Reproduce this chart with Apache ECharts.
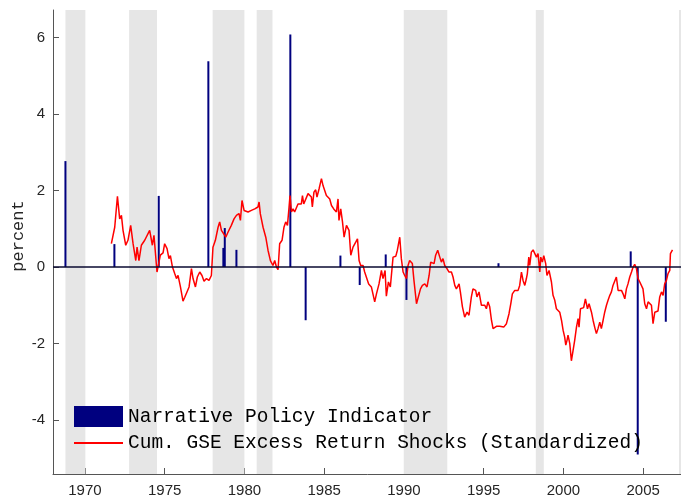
<!DOCTYPE html>
<html>
<head>
<meta charset="utf-8">
<script src="https://cdn.jsdelivr.net/npm/echarts@6/dist/echarts.min.js"></script>
<style>
  html, body { margin: 0; padding: 0; background: #fff; }
  #chart { width: 681px; height: 503px; }
</style>
</head>
<body>
<div id="chart"></div>
<script>
// shaded periods (years)
const bandStarts = [1968.78, 1972.77, 1978.01, 1980.77, 1989.99, 1998.27, 2007.25];
const bandEnds   = [1970.03, 1974.52, 1980.00, 1981.76, 1992.72, 1998.77, 2008.00];

// narrative policy indicator
const policyYears  = [1968.78, 1971.85, 1974.63, 1977.74, 1978.68, 1978.77, 1979.50, 1982.88, 1983.84, 1986.02, 1987.23, 1988.86, 1990.16, 1995.93, 2004.22, 2004.66, 2006.42];
const policyValues = [2.77, 0.60, 1.86, 5.38, 0.50, 1.02, 0.45, 6.08, -1.39, 0.30, -0.47, 0.33, -0.86, 0.10, 0.41, -4.90, -1.43];

// cumulative GSE excess return shocks, [year, value]
const gseShocks = [
  [1971.66,0.61],[1971.87,1.04],[1972.04,1.85],[1972.18,1.26],[1972.29,1.35],[1972.39,0.96],[1972.56,0.57],[1972.70,0.70],
  [1972.87,1.09],[1973.02,0.61],[1973.19,0.17],[1973.27,0.52],[1973.39,0.17],[1973.54,0.57],[1973.75,0.70],[1973.86,0.67],
  [1974.06,0.96],[1974.23,0.57],[1974.33,0.83],[1974.52,-0.13],[1974.63,-0.09],[1974.73,0.31],[1974.90,0.37],[1975.00,0.61],
  [1975.15,0.48],[1975.27,0.22],[1975.36,0.30],[1975.49,0.00],[1975.63,-0.17],[1975.74,-0.30],[1975.84,-0.22],[1975.99,-0.52],
  [1976.15,-0.89],[1976.26,-0.79],[1976.40,-0.65],[1976.53,-0.52],[1976.68,-0.04],[1976.78,-0.30],[1976.93,-0.52],[1977.05,-0.26],
  [1977.20,-0.13],[1977.34,-0.22],[1977.47,-0.37],[1977.62,-0.30],[1977.78,-0.35],[1977.93,-0.22],[1978.03,0.52],[1978.18,0.70],
  [1978.35,1.04],[1978.45,1.18],[1978.56,0.96],[1978.70,0.87],[1978.83,0.78],[1978.97,0.91],[1979.18,1.09],[1979.35,1.26],
  [1979.50,1.35],[1979.66,1.40],[1979.75,1.22],[1979.85,1.74],[1979.98,1.48],[1980.08,1.52],[1980.23,1.44],[1980.44,1.48],
  [1980.65,1.52],[1980.85,1.57],[1980.92,1.70],[1981.00,1.39],[1981.17,1.04],[1981.34,0.78],[1981.48,0.44],[1981.63,0.17],
  [1981.79,0.04],[1981.90,0.17],[1982.01,0.00],[1982.11,-0.07],[1982.21,0.61],[1982.36,0.70],[1982.48,1.04],[1982.59,1.18],
  [1982.66,1.22],[1982.70,1.09],[1982.80,1.57],[1982.86,1.87],[1982.95,1.44],[1983.05,1.52],[1983.15,1.44],[1983.36,1.65],
  [1983.47,1.61],[1983.57,1.65],[1983.64,1.87],[1983.72,1.65],[1983.84,1.65],[1983.99,1.92],[1984.09,1.96],[1984.20,1.83],
  [1984.26,1.57],[1984.36,1.96],[1984.47,2.02],[1984.55,1.83],[1984.68,2.04],[1984.83,2.31],[1984.93,2.13],[1985.14,1.87],
  [1985.35,1.78],[1985.46,1.61],[1985.60,1.52],[1985.77,1.44],[1985.87,1.78],[1985.93,1.22],[1986.04,1.52],[1986.15,1.18],
  [1986.25,0.78],[1986.40,1.09],[1986.56,0.96],[1986.67,0.31],[1986.81,0.52],[1986.98,0.65],[1987.09,0.74],[1987.19,0.17],
  [1987.29,0.04],[1987.44,0.04],[1987.54,-0.13],[1987.65,-0.13],[1987.79,-0.44],[1987.96,-0.52],[1988.17,-0.91],[1988.28,-0.70],
  [1988.44,-0.44],[1988.59,-0.09],[1988.69,-0.30],[1988.82,-0.09],[1988.90,-0.76],[1989.03,-0.39],[1989.15,-0.52],[1989.32,0.26],
  [1989.49,0.28],[1989.59,0.44],[1989.74,0.78],[1989.84,0.22],[1989.95,-0.13],[1990.05,-0.22],[1990.16,-0.30],[1990.26,0.04],
  [1990.36,0.17],[1990.53,0.09],[1990.63,-0.35],[1990.79,-0.96],[1990.89,-0.91],[1991.04,-0.57],[1991.16,-0.48],[1991.31,-0.44],
  [1991.45,-0.52],[1991.58,-0.22],[1991.68,0.13],[1991.79,0.17],[1991.89,0.09],[1991.99,0.31],[1992.12,0.44],[1992.25,0.26],
  [1992.35,0.13],[1992.45,0.22],[1992.56,0.04],[1992.70,-0.04],[1992.83,-0.13],[1992.98,-0.13],[1993.08,-0.26],[1993.19,-0.48],
  [1993.29,-0.57],[1993.46,-0.44],[1993.54,-0.65],[1993.67,-1.04],[1993.81,-1.31],[1993.96,-1.18],[1994.08,-1.26],[1994.23,-0.78],
  [1994.33,-0.57],[1994.50,-0.61],[1994.58,-0.78],[1994.71,-0.65],[1994.86,-1.00],[1994.96,-1.00],[1995.07,-1.00],[1995.17,-1.09],
  [1995.27,-0.91],[1995.38,-1.04],[1995.49,-1.39],[1995.59,-1.61],[1995.69,-1.65],[1995.80,-1.55],[1995.90,-1.57],[1996.01,-1.55],
  [1996.11,-1.58],[1996.26,-1.57],[1996.37,-1.61],[1996.43,-1.48],[1996.59,-1.22],[1996.70,-0.96],[1996.80,-0.70],[1996.95,-0.61],
  [1997.06,-0.57],[1997.16,-0.61],[1997.26,-0.48],[1997.37,-0.13],[1997.47,-0.35],[1997.58,-0.48],[1997.68,-0.30],[1997.74,-0.17],
  [1997.83,0.26],[1997.89,0.04],[1997.99,0.39],[1998.10,0.45],[1998.20,0.44],[1998.31,0.26],[1998.41,0.35],[1998.52,-0.13],
  [1998.58,0.26],[1998.68,0.13],[1998.77,0.30],[1998.89,0.09],[1998.97,-0.22],[1999.10,-0.09],[1999.25,-0.39],[1999.35,-0.74],
  [1999.46,-0.87],[1999.56,-1.09],[1999.66,-1.06],[1999.77,-1.18],[1999.88,-1.39],[1999.98,-1.65],[2000.08,-1.83],[2000.15,-2.04],
  [2000.23,-1.91],[2000.29,-1.78],[2000.40,-2.00],[2000.50,-2.45],[2000.60,-2.20],[2000.71,-1.91],[2000.82,-1.57],[2000.92,-1.35],
  [2000.98,-1.57],[2001.07,-1.09],[2001.19,-1.11],[2001.27,-1.06],[2001.38,-0.83],[2001.51,-1.09],[2001.61,-0.96],[2001.76,-1.18],
  [2001.86,-1.39],[2001.96,-1.57],[2002.07,-1.74],[2002.17,-1.61],[2002.28,-1.44],[2002.38,-1.61],[2002.49,-1.39],[2002.59,-1.18],
  [2002.70,-1.00],[2002.80,-0.87],[2002.91,-0.74],[2003.01,-0.65],[2003.11,-0.48],[2003.22,-0.52],[2003.32,-0.26],[2003.43,-0.61],
  [2003.53,-0.57],[2003.64,-0.61],[2003.74,-0.70],[2003.85,-0.83],[2003.95,-0.57],[2004.05,-0.44],[2004.16,-0.26],[2004.27,-0.13],
  [2004.37,0.00],[2004.47,0.07],[2004.58,-0.04],[2004.68,-0.30],[2004.79,-0.39],[2004.89,-0.35],[2004.99,-0.57],[2005.10,-0.96],
  [2005.21,-1.09],[2005.31,-0.91],[2005.41,-0.87],[2005.52,-1.00],[2005.62,-1.48],[2005.73,-1.18],[2005.83,-1.13],[2005.93,-1.15],
  [2006.04,-0.78],[2006.15,-0.65],[2006.25,-0.74],[2006.35,-0.44],[2006.46,-0.35],[2006.56,-0.17],[2006.67,-0.09],[2006.71,0.35],
  [2006.84,0.45]
];

const xTicks = [1970, 1975, 1980, 1985, 1990, 1995, 2000, 2005];
const yTicks = [-4, -2, 0, 2, 4, 6];

const chart = echarts.init(document.getElementById('chart'));

const axisColor = '#555';
const labelFont = { fontFamily: 'Liberation Sans', fontSize: 15, color: '#262626' };

const option = {
  animation: false,
  grid: { left: 53, top: 10, right: -10, bottom: 29, outerBoundsMode: 'none', containLabel: false },
  legend: {
    orient: 'vertical',
    left: 73,
    top: 406,
    padding: 0,
    itemWidth: 49,
    itemHeight: 21,
    itemGap: 6,
    textStyle: { fontFamily: 'Liberation Mono', fontSize: 19.5, color: '#000' },
    data: [
      { name: 'Narrative Policy Indicator', icon: 'rect' },
      {
        name: 'Cum. GSE Excess Return Shocks (Standardized)',
        itemStyle: { color: 'rgba(0,0,0,0)', borderColor: 'rgba(0,0,0,0)', borderWidth: 0 }
      }
    ]
  },
  xAxis: {
    type: 'value',
    min: 1968,
    max: 2008,
    axisLine: { onZero: false, lineStyle: { color: axisColor, width: 1 } },
    axisTick: { inside: true, length: 6, customValues: xTicks, lineStyle: { color: axisColor } },
    axisLabel: { customValues: xTicks, margin: 9, formatter: v => String(v), ...labelFont },
    splitLine: { show: false }
  },
  yAxis: {
    type: 'value',
    min: -5.41,
    max: 6.72,
    name: 'percent',
    nameLocation: 'middle',
    nameGap: 26,
    nameMoveOverlap: false,
    nameTextStyle: { fontFamily: 'Liberation Mono', fontSize: 17, color: '#262626', padding: [0, 0, 0, 12] },
    axisLine: { show: true, onZero: false, lineStyle: { color: axisColor, width: 1 } },
    axisTick: { show: true, inside: true, length: 6, customValues: yTicks, lineStyle: { color: axisColor } },
    axisLabel: { customValues: yTicks, margin: 8, ...labelFont },
    splitLine: { show: false }
  },
  series: [
    {
      name: 'Narrative Policy Indicator',
      type: 'bar',
      barWidth: 2,
      z: 3,
      itemStyle: { color: '#00007f' },
      data: policyYears.map((y, i) => [y, policyValues[i]]),
      markArea: {
        silent: true,
        itemStyle: { color: '#e6e6e6' },
        data: bandStarts.map((s, i) => [{ xAxis: s }, { xAxis: bandEnds[i] }])
      },
      markLine: {
        silent: true,
        symbol: 'none',
        label: { show: false },
        lineStyle: { type: 'solid', color: '#0a0a30', width: 1.5 },
        data: [{ yAxis: 0 }]
      }
    },
    {
      name: 'Cum. GSE Excess Return Shocks (Standardized)',
      type: 'line',
      z: 4,
      symbol: 'none',
      lineStyle: { color: '#ff0000', width: 1.5 },
      itemStyle: { color: '#ff0000' },
      data: gseShocks
    }
  ]
};

chart.setOption(option);
</script>
</body>
</html>
